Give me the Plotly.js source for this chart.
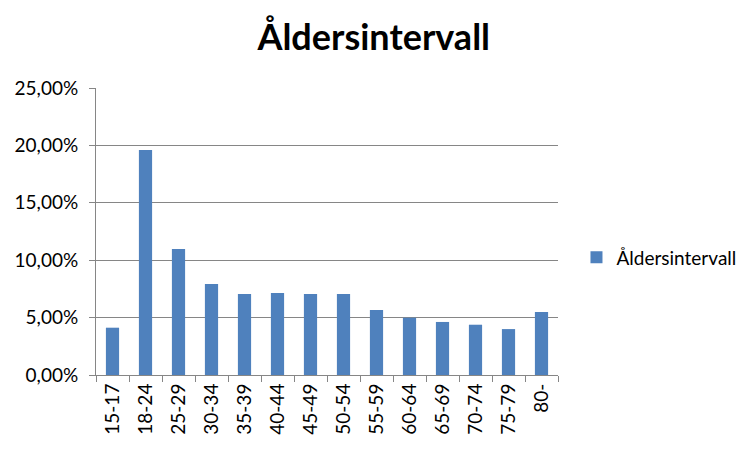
<!DOCTYPE html>
<html>
<head>
<meta charset="utf-8">
<script src="https://cdn.plot.ly/plotly-3.0.1.min.js"></script>
<style>html,body{margin:0;padding:0;background:#fff;}#chart{width:752px;height:451px;}</style>
</head>
<body>
<div id="chart"></div>
<script>
var categories = ["15-17","18-24","25-29","30-34","35-39","40-44","45-49","50-54","55-59","60-64","65-69","70-74","75-79","80-"];
var values = [0.0412,0.196,0.1097,0.0793,0.0706,0.0714,0.0706,0.0706,0.0566,0.0499,0.0462,0.0438,0.0400,0.0549];
var seriesName = "Åldersintervall";
var yTicks = [0,0.05,0.10,0.15,0.20,0.25];

var font = "Lato, 'Open Sans', sans-serif";
var trace = {
  type: "bar",
  x: categories,
  y: values,
  name: seriesName,
  marker: {color: "#4F81BD"},
  showlegend: true
};
var layout = {
  width: 752, height: 451,
  margin: {l: 96, r: 194, t: 88, b: 76, autoexpand: false},
  paper_bgcolor: "#fff", plot_bgcolor: "#fff",
  separators: ", ",
  bargap: 0.6,
  title: {text: "<b>" + seriesName + "</b>", font: {family: font, size: 36, color: "#000"}, x: 0.497, xanchor: "center", y: 0.918, yanchor: "middle"},
  font: {family: font, size: 19, color: "#000"},
  xaxis: {
    type: "category",
    tickangle: -90,
    ticks: "outside", ticklen: 6, tickcolor: "#868686", tickson: "boundaries",
    showline: true, linecolor: "#868686", linewidth: 1,
    showgrid: false, zeroline: false,
    tickfont: {family: font, size: 19, color: "#000"}
  },
  yaxis: {
    range: [0, 0.25],
    tickvals: yTicks,
    tickformat: ".2%",
    ticks: "outside", ticklen: 6, tickcolor: "#868686",
    ticklabelstandoff: 7,
    showline: true, linecolor: "#868686", linewidth: 1,
    showgrid: true, gridcolor: "#868686", gridwidth: 1,
    zeroline: false,
    tickfont: {family: font, size: 19, color: "#000"}
  },
  legend: {x: 1.04, xanchor: "left", y: 0.41, yanchor: "middle", itemwidth: 30, font: {family: font, size: 19, color: "#000"}, bgcolor: "rgba(0,0,0,0)"}
};
Plotly.newPlot("chart", [trace], layout, {displayModeBar: false, staticPlot: true});
</script>
</body>
</html>
